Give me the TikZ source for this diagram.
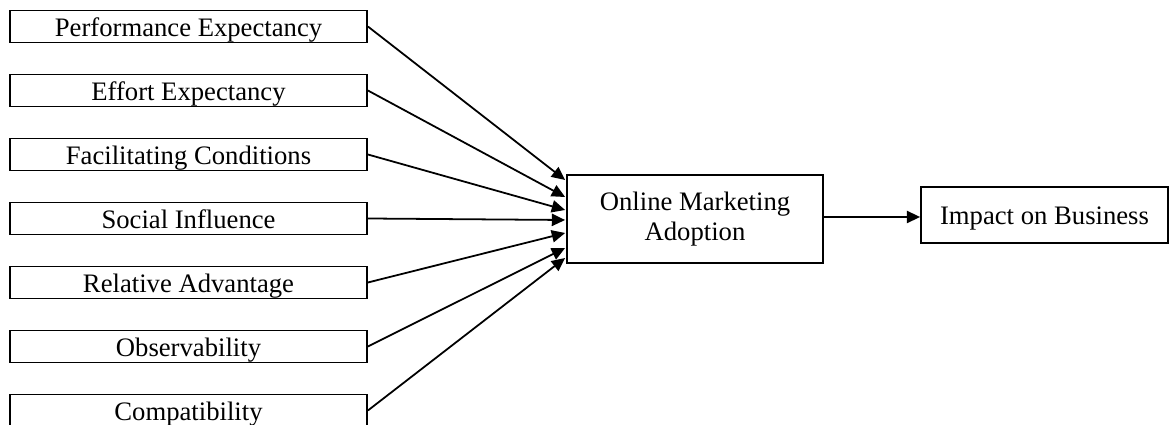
\documentclass[tikz,border=0pt]{standalone}
\usepackage{fontspec}
\setmainfont{Liberation Serif}
\usetikzlibrary{positioning,
        arrows.meta,
        calc}

\begin{document}
\begin{tikzpicture}[x=0.45pt,y=-0.45pt,
        factor/.style={draw,line width=0.8pt,minimum width=357*0.45pt,minimum height=32*0.45pt,inner sep=0pt,text height=9.2pt,text depth=0pt,font=\fontsize{12}{14}\selectfont},
        hub/.style={draw,line width=0.8pt,minimum width=256*0.45pt,minimum height=88*0.45pt,inner sep=0pt,align=center,font=\fontsize{12}{13.6}\selectfont},
        outcome/.style={draw,line width=0.8pt,minimum width=247*0.45pt,minimum height=56*0.45pt,inner sep=0pt,text height=9pt,text depth=0pt,font=\fontsize{12}{14}\selectfont},
        arr/.style={-{Triangle[length=6pt,width=5.5pt]},line width=0.8pt}]
            \useasboundingbox (0,0) rectangle (1170,425);
            \node [factor] (pe) at (188.5, 26.5) {Performance Expectancy};
            \node [factor] (ee) at (188.5, 90.5) {Effort Expectancy};
            \node [factor] (fc) at (188.5,154.5) {Facilitating Conditions};
            \node [factor] (si) at (188.5,218.5) {Social Influence};
            \node [factor] (ra) at (188.5,282.5) {Relative Advantage};
            \node [factor] (ob) at (188.5,346.5) {Observability};
            \node [factor] (co) at (188.5,410.5) {Compatibility};
            \node [hub] (oma) at (695,219) {Online Marketing\\Adoption};
            \node [outcome] (iob) at (1044.5,215) {Impact on Business};

            \foreach \n/\o in {pe/-39,ee/-22,fc/-9,si/1,ra/14,ob/29,co/39}
                \draw [arr] (\n.east) -- ($(oma.west)+(-1,\o)$);
            \draw [arr] ($(oma.east)+(0,-2)$) -- ($(oma.east -| iob.west)+(0,-2)$);
        \end{tikzpicture}
\end{document}
